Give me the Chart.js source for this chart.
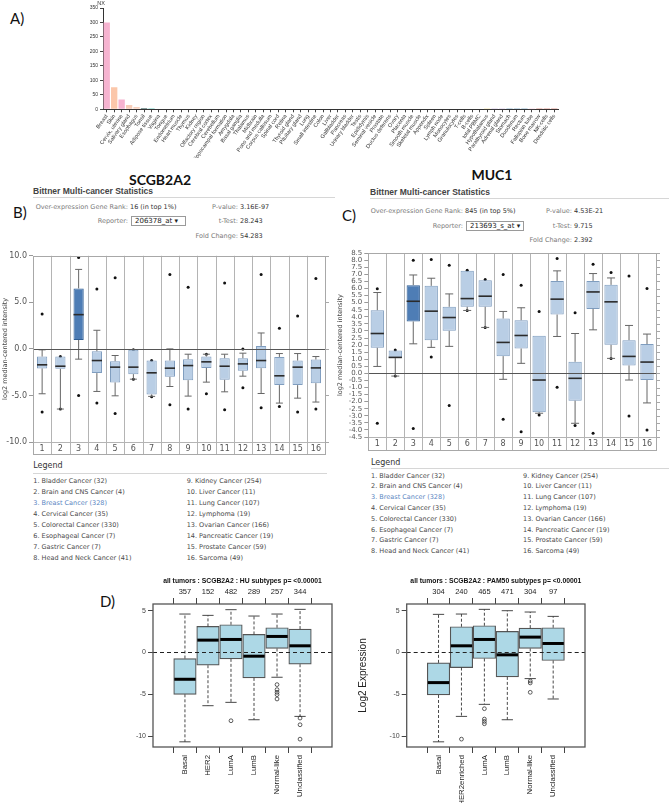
<!DOCTYPE html>
<html>
<head>
<meta charset="utf-8">
<script src="https://cdn.jsdelivr.net/npm/chart.js@4.4.1/dist/chart.umd.min.js"></script>
<style>
html,body{margin:0;padding:0;background:#fff}
body{position:relative;width:669px;height:811px;overflow:hidden;font-family:"DejaVu Sans",sans-serif}
.t{position:absolute;white-space:nowrap;line-height:1}
.rule{position:absolute;height:1px;background:#d6d6d6}
.sel{position:absolute;border:1px solid #9a9a9a;background:#fff;box-sizing:border-box;font-size:7px;color:#222;line-height:1;padding:1px 0 0 3px;white-space:nowrap}
canvas{position:absolute}
</style>
</head>
<body>
<script>
// ---- panel A : HPA tissue RNA (NX) ----
var tissues = ["Breast","Skin","Cervix, uterine","Salivary gland","Esophagus","Tonsil","Adipose tissue","Vagina","Tongue","Endometrium","Heart muscle","Thymus","Kidney","Olfactory region","Cerebral cortex","Cerebellum","Hippocampal formation","Amygdala","Basal ganglia","Thalamus","Midbrain","Pons and medulla","Corpus callosum","Spinal cord","Retina","Thyroid gland","Pituitary gland","Lung","Small intestine","Colon","Liver","Gallbladder","Pancreas","Urinary bladder","Testis","Epididymis","Seminal vesicle","Prostate","Ductus deferens","Ovary","Placenta","Smooth muscle","Skeletal muscle","Appendix","Spleen","Lymph node","Monocytes","Granulocytes","T-cells","B-cells","total PBMC","Hypothalamus","Parathyroid gland","Adrenal gland","Stomach","Duodenum","Rectum","Fallopian tube","Bone marrow","NK-cells","Dendritic cells"];
var tissueNX = [300,76,34,15,8,4.5,3.5,1.5,1.5,1.5,1.5,1.5,1.5,1.5,1.5,1.5,1.5,1.5,1.5,1.5,1.5,1.5,1.5,1.5,1.5,1.5,1.5,1.5,1.5,2,2,1.5,1.5,1.5,1.5,1.5,1.5,1.5,1.5,1.5,1.5,1.5,1.5,1.5,1.5,1.5,2,2,2,2,2,0.5,0.5,0.5,0.5,0.5,0.5,0.5,0.5,0.5,0.5];
var tissueColors = ["#f6b3d0","#fbc7aa","#f6b3d0","#f7cdb8","#f8d2c0","#5e7c7c","#73cfc6","#f6b3d0","#f8d2c0","#f6b3d0","#e58c8c","#c9a0c9","#f2c94c","#f0d36b","#f0d36b","#f0d36b","#f0d36b","#f0d36b","#f0d36b","#f0d36b","#f0d36b","#f0d36b","#f0d36b","#f0d36b","#f0d36b","#b79ad6","#b79ad6","#6fa8d6","#2f6f9f","#2f6f9f","#4f7fb5","#4f7fb5","#b0a0d0","#f2c94c","#4a90c2","#4a90c2","#4a90c2","#4a90c2","#4a90c2","#f6b3d0","#f6b3d0","#e58c8c","#e58c8c","#c0392b","#c0392b","#c0392b","#c0392b","#c0392b","#c0392b","#c0392b","#c0392b","#f0d36b","#b79ad6","#b79ad6","#2f6f9f","#2f6f9f","#2f6f9f","#f6b3d0","#c0392b","#c0392b","#c0392b"];
var nxTicks = [0,50,100,150,200,250,300,350];

// ---- panels B / C : Oncomine Bittner multi-cancer ----
var cancerIds = ["1","2","3","4","5","6","7","8","9","10","11","12","13","14","15","16"];
var cancerNames = ["Bladder Cancer","Brain and CNS Cancer","Breast Cancer","Cervical Cancer","Colorectal Cancer","Esophageal Cancer","Gastric Cancer","Head and Neck Cancer","Kidney Cancer","Liver Cancer","Lung Cancer","Lymphoma","Ovarian Cancer","Pancreatic Cancer","Prostate Cancer","Sarcoma"];
var cancerN = [32,4,328,35,330,7,7,41,254,11,107,19,166,19,59,49];

var scgbMin = [-6.79,-6.46,-5.0,-5.82,-6.93,-3.25,-5.14,-6.0,-6.46,-4.82,-6.54,-4.18,-6.32,-6.18,-6.79,-6.46];
var scgbP10 = [-4.82,-6.46,-1.1,-4.57,-5.04,-3.25,-5.1,-4.04,-5.07,-3.57,-4.61,-2.93,-4.79,-5.82,-5.29,-5.71];
var scgbQ1  = [-2.1,-2.14,0.96,-2.6,-3.6,-2.71,-4.89,-3.0,-3.36,-2.04,-3.32,-2.36,-2.07,-3.89,-3.89,-3.68];
var scgbMed = [-1.71,-1.86,3.68,-1.25,-1.96,-1.96,-2.57,-2.07,-1.79,-1.39,-1.86,-1.61,-1.25,-2.89,-1.96,-2.04];
var scgbQ3  = [-0.82,-0.82,6.5,-0.25,-1.32,-0.1,-1.25,-1.25,-1.1,-0.82,-1.0,-1.0,0.32,-0.86,-1.25,-1.14];
var scgbP90 = [-0.1,-0.82,8.54,2.0,-0.71,-0.1,-1.25,0.0,-0.57,-0.57,-0.57,-0.46,1.71,-0.5,-0.5,-0.82];
var scgbMax = [3.75,-0.82,9.82,6.43,7.64,-0.1,-1.25,8.0,6.61,-0.57,7.07,0.0,8.0,2.21,3.54,7.57];

var mucMin = [-3.53,-0.19,-3.9,1.15,-2.28,4.45,3.25,-3.25,-4.12,-2.94,-0.99,-3.69,-4.24,1.06,-3.01,-4.0];
var mucP10 = [0.49,-0.19,2.09,1.84,1.91,4.45,3.25,-0.42,0.71,-2.82,2.61,-3.53,3.08,1.06,-0.47,-2.09];
var mucQ1  = [1.81,1.08,3.67,2.35,3.01,4.71,4.71,1.22,1.76,-2.75,4.16,-1.93,4.56,2.02,0.56,-0.47];
var mucMed = [2.82,1.13,5.1,4.4,3.95,5.29,5.46,2.19,2.68,-0.47,5.25,-0.35,5.76,5.06,1.2,0.8];
var mucQ3  = [4.47,1.62,6.24,6.19,4.71,7.25,6.59,3.88,3.76,2.66,6.54,0.82,6.54,6.26,2.35,2.07];
var mucP90 = [5.72,1.62,6.96,6.73,5.62,7.25,6.59,4.38,4.64,2.66,7.25,2.82,7.06,6.75,3.39,2.78];
var mucMax = [5.98,1.65,8.0,8.05,7.65,7.29,6.64,6.99,6.24,4.38,8.12,4.28,7.72,7.13,6.89,6.0];

var scgbTicks = [-10,-5,0,5,10];
var mucTicks = [-4.5,-4,-3.5,-3,-2.5,-2,-1.5,-1,-0.5,0,0.5,1,1.5,2,2.5,3,3.5,4,4.5,5,5.5,6,6.5,7,7.5,8,8.5];

// ---- panel D : breast subtypes ----
var huSubtypes = ["Basal","HER2","LumA","LumB","Normal-like","Unclassified"];
var huCounts = [357,152,482,289,257,344];
var huLow  = [-10.68,-6.36,-5.96,-8.04,-2.96,-7.64];
var huQ1   = [-5.0,-1.52,-0.76,-3.04,0.48,-1.4];
var huMed  = [-3.2,1.48,1.56,-0.44,1.92,0.8];
var huQ3   = [-0.72,3.12,3.32,2.16,2.96,2.8];
var huHigh = [4.6,4.44,5.12,4.36,4.6,5.16];
var huOut  = [[],[],[-8.16],[],[-3.84,-4.44,-4.76,-5.04,-5.56],[-7.84,-8.64,-10.36]];

var pamSubtypes = ["Basal","HER2enriched","LumA","LumB","Normal-like","Unclassified"];
var pamCounts = [304,240,465,471,304,97];
var pamLow  = [-10.68,-7.64,-6.2,-8.04,-3.12,-5.56];
var pamQ1   = [-5.08,-1.8,-0.72,-2.92,0.48,-0.96];
var pamMed  = [-3.6,0.8,1.56,-0.28,1.84,1.08];
var pamQ3   = [-1.24,3.08,3.2,2.52,2.92,2.96];
var pamHigh = [4.56,4.6,5.16,5.0,4.84,4.32];
var pamOut  = [[],[-10.36],[-6.72,-7.96,-8.24,-8.52],[],[-3.4,-3.64,-4.76],[]];
var log2Ticks = [-10,-5,0,5];

Chart.defaults.animation = false;
Chart.defaults.plugins.legend.display = false;
Chart.defaults.plugins.tooltip.enabled = false;
Chart.defaults.font.family = '"DejaVu Sans", sans-serif';

function txt(s, x, y, css, align) {
    var d = document.createElement('div');
    d.className = 't';
    d.textContent = s;
    d.style.cssText = css || '';
    if (align == 'right') d.style.right = (669 - x) + 'px';
    else if (align == 'center') { d.style.left = (x - 150) + 'px'; d.style.width = '300px'; d.style.textAlign = 'center'; }
    else d.style.left = x + 'px';
    d.style.top = y + 'px';
    document.body.appendChild(d);
    return d;
}
function rule(x, y, w) {
    var d = document.createElement('div');
    d.className = 'rule';
    d.style.left = x + 'px'; d.style.top = y + 'px'; d.style.width = w + 'px';
    document.body.appendChild(d);
}
function canvasAt(x, y, w, h) {
    var c = document.createElement('canvas');
    c.width = w; c.height = h;
    c.style.left = x + 'px'; c.style.top = y + 'px';
    c.style.width = w + 'px'; c.style.height = h + 'px';
    document.body.appendChild(c);
    return c;
}
function line(ctx, x1, y1, x2, y2) {
    ctx.beginPath(); ctx.moveTo(x1, y1); ctx.lineTo(x2, y2); ctx.stroke();
}

// ---------------- A ----------------
txt('A)', 10, 9, 'font:15px Lato;color:#111');
new Chart(canvasAt(55, 0, 513, 158), {
    type: 'bar',
    data: {
        labels: tissues,
        datasets: [{ data: tissueNX, backgroundColor: tissueColors, barPercentage: 0.85, categoryPercentage: 1 }]
    },
    options: {
        responsive: false,
        layout: { padding: { top: 8, right: 10, bottom: 0, left: 0 } },
        scales: {
            x: {
                grid: { drawOnChartArea: false, offset: false, tickLength: 3, color: '#444' },
                border: { color: '#333' },
                ticks: { autoSkip: false, minRotation: 55, maxRotation: 55, padding: 1, color: '#333', font: { size: 5.5, family: '"Liberation Sans", Arial' } },
                afterFit: function (s) { s.height = 48.7; }
            },
            y: {
                min: 0, max: 350,
                afterBuildTicks: function (s) { s.ticks = nxTicks.map(function (v) { return { value: v }; }); },
                grid: { drawOnChartArea: false, tickLength: 3, color: '#444' },
                border: { color: '#333' },
                ticks: { padding: 2, color: '#333', font: { size: 5, family: '"Liberation Sans", Arial' } },
                afterFit: function (s) { s.width = 48; }
            }
        }
    },
    plugins: [{
        id: 'nx',
        afterDraw: function (chart) {
            var ctx = chart.ctx;
            ctx.save();
            ctx.font = '5.5px "Liberation Sans", Arial';
            ctx.fillStyle = '#333';
            ctx.textAlign = 'center';
            ctx.textBaseline = 'middle';
            ctx.fillText('NX', chart.chartArea.left - 2, 3);
            ctx.restore();
        }
    }]
});

// ---------------- B / C (Oncomine) ----------------
function statsBlock(o) {
    var sm = 'font-size:6.5px;';
    txt(o.gene, o.geneX, o.geneY, 'font:bold 14px Lato;color:#111', 'center');
    txt('Bittner Multi-cancer Statistics', o.x0, o.headY, 'font:bold 8.5px "Liberation Sans";color:#444');
    rule(o.x0, o.ruleY, o.ruleW);
    txt(o.panel, o.panelX, o.panelY, 'font:15px Lato;color:#111');
    txt('Over-expression Gene Rank:', o.c1, o.rows[0] - 3.5, sm + 'color:#7a7a7a', 'right');
    txt(o.rank, o.c1 + 2, o.rows[0] - 3.5, sm + 'color:#333');
    txt('Reporter:', o.c1, o.rows[1] - 3.5, sm + 'color:#7a7a7a', 'right');
    var s = document.createElement('div');
    s.className = 'sel';
    s.textContent = o.reporter + ' \u25BE';
    s.style.left = (o.c1 + 3) + 'px'; s.style.top = (o.rows[1] - 5) + 'px';
    s.style.width = o.selW + 'px'; s.style.height = '10px';
    document.body.appendChild(s);
    var labs = ['P-value:', 't-Test:', 'Fold Change:'];
    for (var i = 0; i < 3; i++) {
        txt(labs[i], o.c2, o.rows[i] - 3.5, sm + 'color:#7a7a7a', 'right');
        txt(o.stats[i], o.c2 + 2, o.rows[i] - 3.5, sm + 'color:#333');
    }
}
function legendBlock(x0, x1, headY, ruleY, ruleW, row0, dy) {
    txt('Legend', x0, headY, 'font-size:8px;color:#333');
    rule(x0, ruleY, ruleW);
    cancerNames.forEach(function (n, i) {
        var col = i < 8 ? x0 : x1;
        txt((i + 1) + '. ' + n + ' (' + cancerN[i] + ')', col, row0 + (i % 8) * dy - 3.5,
            'font-size:6.5px;color:' + (i == 2 ? '#5a86c2' : '#4a4a4a'));
    });
}

function oncoChart(cv, s, o) {
    var fills = cancerIds.map(function (_, i) { return i == 2 ? '#4e7db5' : '#b9cee5'; });
    var edges = cancerIds.map(function (_, i) { return i == 2 ? '#2e5d93' : '#7f9dbf'; });
    var dots = [];
    cancerIds.forEach(function (id, i) {
        dots.push({ x: id, y: s.min[i] });
        dots.push({ x: id, y: s.max[i] });
    });
    return new Chart(cv, {
        type: 'bar',
        data: {
            labels: cancerIds,
            datasets: [
                { data: s.q1.map(function (v, i) { return [v, s.q3[i]]; }), backgroundColor: fills, borderColor: edges, borderWidth: 1, borderSkipped: false, barPercentage: o.boxPct, categoryPercentage: 1 },
                { type: 'line', showLine: false, data: dots, pointRadius: 1.5, pointBackgroundColor: '#111', pointBorderWidth: 0 }
            ]
        },
        options: {
            responsive: false,
            layout: { padding: { top: o.padTop, right: 10, bottom: 2, left: 0 } },
            scales: {
                x: {
                    grid: { display: false, drawTicks: false },
                    border: { display: false },
                    ticks: { autoSkip: false, maxRotation: 0, padding: 2.5, color: '#555', font: { size: 8 } },
                    afterFit: function (sc) { sc.height = o.rowH; }
                },
                y: {
                    min: o.yMin, max: o.yMax,
                    afterBuildTicks: function (sc) { sc.ticks = o.ticks.map(function (v) { return { value: v }; }); },
                    grid: { drawOnChartArea: false, tickLength: 4, color: '#999' },
                    border: { display: false },
                    ticks: { autoSkip: false, padding: 2, color: '#555', font: { size: o.tickFont }, callback: function (v) { return v.toFixed(1); } },
                    title: { display: true, text: 'log2 median-centered intensity', color: '#444', font: { size: 6.5 }, padding: { top: 1, bottom: 0 } },
                    afterFit: function (sc) { sc.width = o.yWidth; }
                }
            }
        },
        plugins: [{
            id: 'oncoFrame',
            beforeDatasetsDraw: function (chart) {
                var ctx = chart.ctx, a = chart.chartArea, x = chart.scales.x;
                var half = (x.getPixelForValue(1) - x.getPixelForValue(0)) / 2;
                ctx.save();
                ctx.strokeStyle = '#b4b4b4'; ctx.lineWidth = 1;
                for (var i = 1; i < cancerIds.length; i++) {
                    var px = Math.round(x.getPixelForValue(i) - half) + 0.5;
                    line(ctx, px, a.top, px, a.bottom + o.rowH);
                }
                line(ctx, a.left, Math.round(a.bottom) + 0.5, a.right, Math.round(a.bottom) + 0.5);
                ctx.restore();
            },
            afterDatasetsDraw: function (chart) {
                var ctx = chart.ctx, a = chart.chartArea, y = chart.scales.y;
                var meta = chart.getDatasetMeta(0).data;
                ctx.save();
                meta.forEach(function (bar, i) {
                    var cx = bar.x, w = bar.width, cap = o.cap / 2;
                    ctx.strokeStyle = '#666'; ctx.lineWidth = 1;
                    var yq3 = y.getPixelForValue(s.q3[i]), yq1 = y.getPixelForValue(s.q1[i]);
                    var yhi = y.getPixelForValue(s.p90[i]), ylo = y.getPixelForValue(s.p10[i]);
                    if (yhi < yq3 - 0.5) { line(ctx, cx, yq3, cx, yhi); line(ctx, cx - cap, yhi, cx + cap, yhi); }
                    if (ylo > yq1 + 0.5) { line(ctx, cx, yq1, cx, ylo); line(ctx, cx - cap, ylo, cx + cap, ylo); }
                    ctx.strokeStyle = '#2b2b2b'; ctx.lineWidth = 1.6;
                    var ym = y.getPixelForValue(s.med[i]);
                    line(ctx, cx - w / 2, ym, cx + w / 2, ym);
                });
                var y0 = Math.round(y.getPixelForValue(0)) + 0.5;
                ctx.strokeStyle = '#555'; ctx.lineWidth = 1;
                line(ctx, a.left, y0, a.right, y0);
                ctx.strokeStyle = '#a8a8a8';
                ctx.strokeRect(Math.round(a.left) + 0.5, Math.round(a.top) + 0.5, Math.round(a.right - a.left), Math.round(a.bottom + o.rowH - a.top));
                o.ticks.forEach(function (v) {
                    var py = Math.round(y.getPixelForValue(v)) + 0.5;
                    line(ctx, a.right, py, a.right + 4, py);
                });
                ctx.restore();
            }
        }]
    });
}

statsBlock({ gene: 'SCGB2A2', geneX: 160, geneY: 171, x0: 33, headY: 186, ruleY: 197, ruleW: 302, panel: 'B)', panelX: 13, panelY: 203,
    c1: 128, c2: 238, rows: [207.5, 221, 236], rank: '16 (in top 1%)', reporter: '206378_at', selW: 55, stats: ['3.16E-97', '28.243', '54.283'] });
statsBlock({ gene: 'MUC1', geneX: 492, geneY: 166, x0: 370, headY: 187, ruleY: 198, ruleW: 299, panel: 'C)', panelX: 342, panelY: 206,
    c1: 463, c2: 572, rows: [211, 226, 240.5], rank: '845 (in top 5%)', reporter: '213693_s_at', selW: 58, stats: ['4.53E-21', '9.715', '2.392'] });

oncoChart(canvasAt(0, 249, 335, 207), { min: scgbMin, p10: scgbP10, q1: scgbQ1, med: scgbMed, q3: scgbQ3, p90: scgbP90, max: scgbMax },
    { yMin: -10, yMax: 10, ticks: scgbTicks, tickFont: 8, yWidth: 33, padTop: 6.7, rowH: 12, boxPct: 0.56, cap: 7 });
oncoChart(canvasAt(335, 247, 331, 205), { min: mucMin, p10: mucP10, q1: mucQ1, med: mucMed, q3: mucQ3, p90: mucP90, max: mucMax },
    { yMin: -4.5, yMax: 8.5, ticks: mucTicks, tickFont: 7, yWidth: 33.3, padTop: 6, rowH: 13, boxPct: 0.74, cap: 8 });

legendBlock(33.3, 186.7, 462, 473, 294, 481.7, 10.9);
legendBlock(371, 523, 459, 468, 298, 476, 10.8);

// ---------------- D (R style boxplots) ----------------
txt('D)', 100, 592, 'font:15px Lato;color:#111');

function rBox(cv, names, counts, st, outs, o) {
    var boxes = names.map(function (_, i) { return { x: i + 1, y: [st.q1[i], st.q3[i]] }; });
    var pts = [];
    outs.forEach(function (arr, i) { arr.forEach(function (v) { pts.push({ x: i + 1, y: v }); }); });
    var catTicks = function (sc) { sc.ticks = names.map(function (_, i) { return { value: i + 1 }; }); };
    var sans = '"Liberation Sans", Arial, sans-serif';
    return new Chart(cv, {
        type: 'bar',
        data: {
            datasets: [
                { data: boxes, backgroundColor: '#add8e6', borderColor: '#555', borderWidth: 1.2, borderSkipped: false, barThickness: 22.5 },
                { type: 'line', showLine: false, data: pts, pointRadius: 1.9, pointBackgroundColor: 'rgba(0,0,0,0)', pointBorderColor: '#333', pointBorderWidth: 0.8 }
            ]
        },
        options: {
            responsive: false,
            layout: { padding: { top: 15, right: 6, bottom: 0, left: 0 } },
            scales: {
                x: {
                    type: 'linear', position: 'bottom', min: 0.26, max: 6.74,
                    afterBuildTicks: catTicks,
                    grid: { drawOnChartArea: false, tickLength: 6, color: '#444' },
                    border: { display: false },
                    ticks: { autoSkip: false, minRotation: 90, maxRotation: 90, padding: 2, color: '#222', font: { size: 7.8, family: sans },
                        callback: function (v, i) { return names[i]; } },
                    afterFit: function (sc) { sc.height = 56; }
                },
                x2: {
                    type: 'linear', position: 'top', min: 0.26, max: 6.74,
                    afterBuildTicks: catTicks,
                    grid: { drawOnChartArea: false, tickLength: 6, color: '#444' },
                    border: { display: false },
                    ticks: { autoSkip: false, maxRotation: 0, padding: 2, color: '#222', font: { size: 7.5, family: sans },
                        callback: function (v, i) { return counts[i]; } },
                    afterFit: function (sc) { sc.height = 15; }
                },
                y: {
                    min: -11.3, max: 5.8,
                    afterBuildTicks: function (sc) { sc.ticks = log2Ticks.map(function (v) { return { value: v }; }); },
                    grid: { drawOnChartArea: false, tickLength: 5, color: '#444' },
                    border: { display: false },
                    ticks: { padding: 2, color: '#444', font: { size: 7, family: sans } },
                    title: { display: !!o.yTitle, text: o.yTitle || '', color: '#222', font: { size: 10, family: sans }, padding: { top: 2, bottom: 0 } },
                    afterFit: function (sc) { sc.width = o.yWidth; }
                }
            }
        },
        plugins: [{
            id: 'rbox',
            afterDatasetsDraw: function (chart) {
                var ctx = chart.ctx, a = chart.chartArea, y = chart.scales.y;
                ctx.save();
                chart.getDatasetMeta(0).data.forEach(function (bar, i) {
                    var cx = bar.x, w = bar.width;
                    var yq3 = y.getPixelForValue(st.q3[i]), yq1 = y.getPixelForValue(st.q1[i]);
                    var yhi = y.getPixelForValue(st.hi[i]), ylo = y.getPixelForValue(st.lo[i]);
                    ctx.strokeStyle = '#333'; ctx.lineWidth = 0.9;
                    ctx.setLineDash([3, 2]);
                    line(ctx, cx, yq3, cx, yhi);
                    line(ctx, cx, yq1, cx, ylo);
                    ctx.setLineDash([]);
                    line(ctx, cx - w / 4, yhi, cx + w / 4, yhi);
                    line(ctx, cx - w / 4, ylo, cx + w / 4, ylo);
                    ctx.strokeStyle = '#000'; ctx.lineWidth = 3;
                    var ym = y.getPixelForValue(st.med[i]);
                    line(ctx, cx - w / 2 + 0.6, ym, cx + w / 2 - 0.6, ym);
                });
                var y0 = y.getPixelForValue(0);
                ctx.strokeStyle = '#222'; ctx.lineWidth = 1;
                ctx.setLineDash([4, 3]);
                line(ctx, a.left, y0, a.right, y0);
                ctx.setLineDash([]);
                ctx.strokeStyle = '#555'; ctx.lineWidth = 1.3;
                ctx.strokeRect(a.left, a.top, a.right - a.left, a.bottom - a.top);
                ctx.fillStyle = '#111';
                ctx.font = 'bold 6.8px "Liberation Sans", Arial';
                ctx.textAlign = 'center'; ctx.textBaseline = 'middle';
                ctx.fillText(o.title, (a.left + a.right) / 2, 7.5);
                ctx.restore();
            }
        }]
    });
}

rBox(canvasAt(118, 574, 220, 229), huSubtypes, huCounts,
    { lo: huLow, q1: huQ1, med: huMed, q3: huQ3, hi: huHigh }, huOut,
    { yWidth: 35, title: 'all tumors : SCGB2A2 : HU subtypes p= <0.00001' });
rBox(canvasAt(355, 574, 236, 229), pamSubtypes, pamCounts,
    { lo: pamLow, q1: pamQ1, med: pamMed, q3: pamQ3, hi: pamHigh }, pamOut,
    { yWidth: 51.7, yTitle: 'Log2 Expression', title: 'all tumors : SCGB2A2 : PAM50 subtypes p= <0.00001' });
</script>
</body>
</html>
